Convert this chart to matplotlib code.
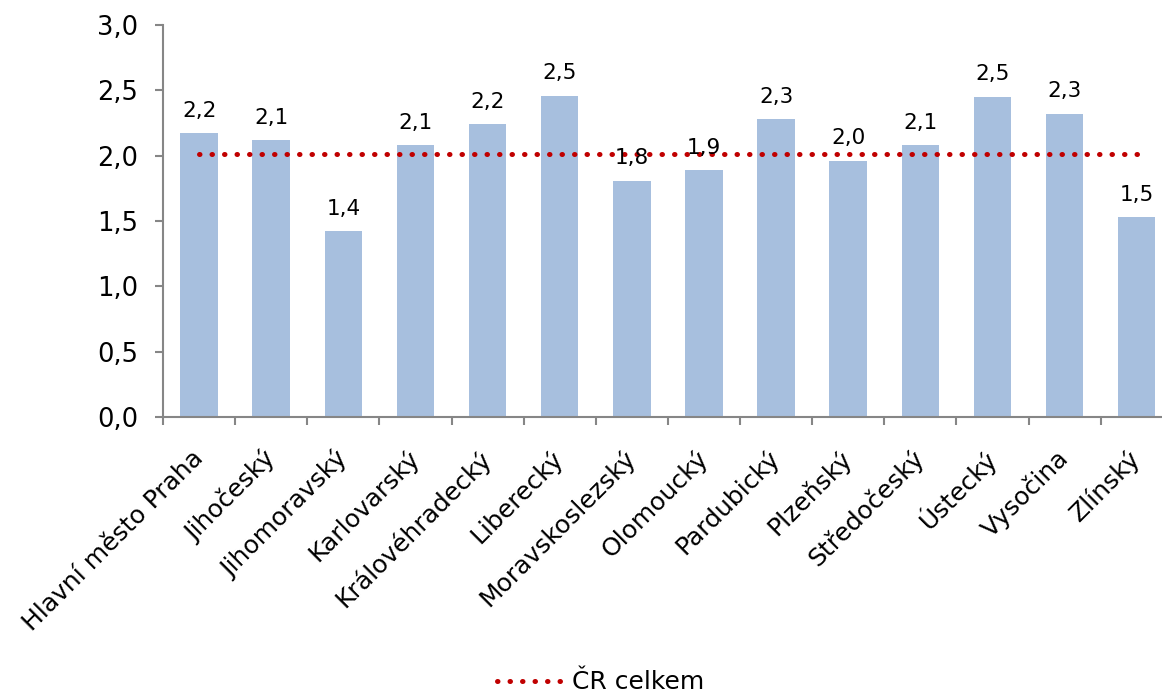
import matplotlib
matplotlib.use('Agg')

import matplotlib.pyplot as plt
from matplotlib.ticker import FuncFormatter

# data
regions = ["Hlavní město Praha", "Jihočeský", "Jihomoravský", "Karlovarský",
           "Královéhradecký", "Liberecký", "Moravskoslezský", "Olomoucký",
           "Pardubický", "Plzeňský", "Středočeský", "Ústecký", "Vysočina",
           "Zlínský"]
values = [2.17, 2.12, 1.42, 2.08, 2.24, 2.46, 1.81, 1.89, 2.28, 1.96, 2.08,
          2.45, 2.32, 1.53]
cr_total = 2.01
legend_label = "ČR celkem"

bar_color = "#A7BFDE"
line_color = "#C00000"
axis_color = "#868686"

plt.rcParams['font.family'] = ['DejaVu Sans']

fig = plt.figure(figsize=(11.62, 6.95), dpi=100)
ax = fig.add_axes([0.1403, 0.40, 0.869, 0.564])

x = list(range(len(regions)))
bars = ax.bar(x, values, width=0.52, color=bar_color, zorder=2)

# value labels, comma as decimal separator
for xi, v in zip(x, values):
    ax.annotate(f"{v:.1f}".replace(".", ","), (xi, v), xytext=(0, 9),
                textcoords="offset points", ha="center", va="bottom",
                fontsize=15.5, zorder=4)

# country average line
ax.plot([x[0], x[-1]], [cr_total, cr_total], color=line_color,
        linewidth=3.6, linestyle=(0, (0.1, 2.4)), dash_capstyle="round",
        label=legend_label, zorder=3)

ax.set_xlim(-0.5, len(regions) - 0.5)
ax.set_ylim(0, 3.0)
ax.set_yticks([0, 0.5, 1.0, 1.5, 2.0, 2.5, 3.0])
ax.yaxis.set_major_formatter(FuncFormatter(lambda v, p: f"{v:.1f}".replace(".", ",")))

ax.set_xticks(x)
ax.set_xticklabels(regions, rotation=45, ha="right", va="center",
                   rotation_mode="anchor", fontsize=18)
ax.set_xticks([i - 0.5 for i in range(len(regions) + 1)], minor=True)
ax.tick_params(axis="x", which="major", length=0, pad=27)
ax.tick_params(axis="x", which="minor", length=6, width=1.5, color=axis_color)
ax.tick_params(axis="y", length=6, width=1.5, color=axis_color,
               labelsize=18.5, pad=12)

for side in ["top", "right"]:
    ax.spines[side].set_visible(False)
for side in ["left", "bottom"]:
    ax.spines[side].set_color(axis_color)
    ax.spines[side].set_linewidth(1.5)

fig.legend(loc="center", bbox_to_anchor=(0.517, 0.018), frameon=False,
           fontsize=18, handlelength=2.5, handletextpad=0.5)

plt.savefig("out.png", dpi=100)
plt.close()
